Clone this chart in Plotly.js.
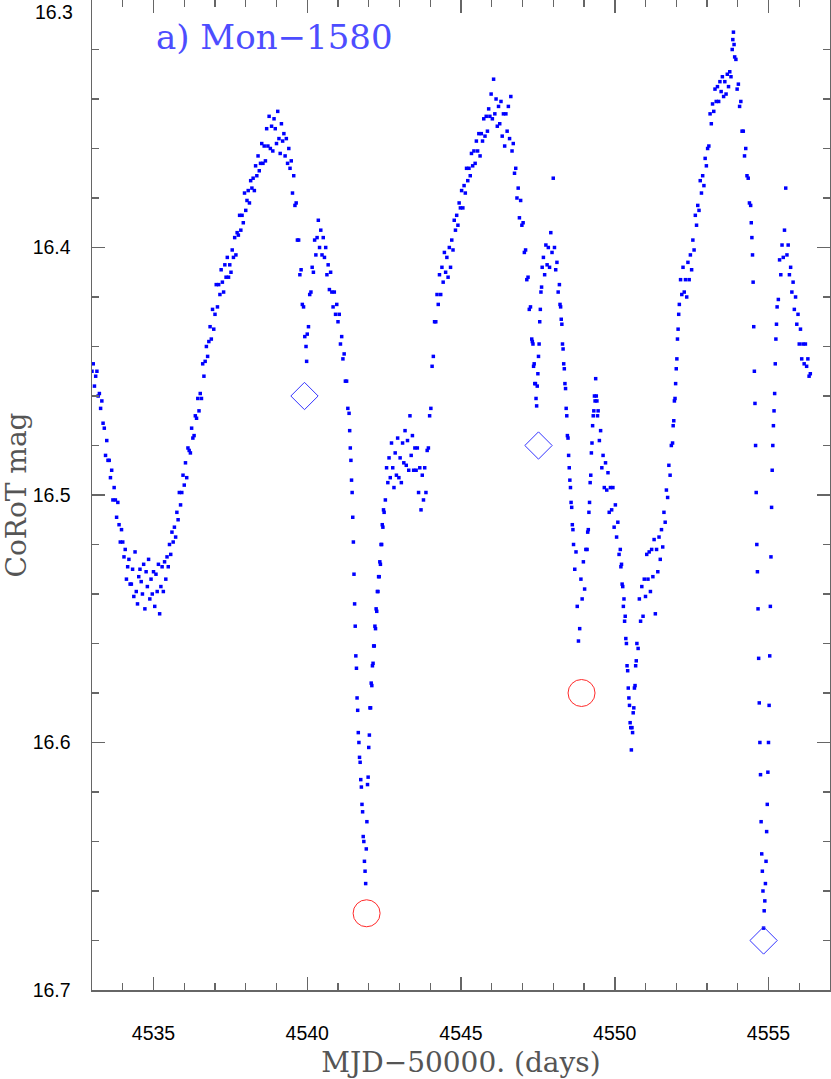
<!DOCTYPE html>
<html>
<head>
<meta charset="utf-8">
<script src="https://cdn.plot.ly/plotly-3.0.1.min.js"></script>
<style>
  html, body { margin: 0; padding: 0; background: #fff; }
  #plot { width: 831px; height: 1079px; }
</style>
</head>
<body>
<div id="plot"></div>
<script>
// CoRoT light curve of Mon-1580
const days = [
  4533.00,4533.04,4533.08,4533.12,4533.16,4533.20,4533.24,4533.28,4533.32,4533.36,
  4533.40,4533.44,4533.48,4533.52,4533.56,4533.60,4533.64,4533.68,4533.72,4533.76,
  4533.80,4533.84,4533.88,4533.92,4533.96,4534.00,4534.04,4534.08,4534.12,4534.16,
  4534.20,4534.24,4534.28,4534.32,4534.36,4534.40,4534.44,4534.48,4534.52,4534.56,
  4534.60,4534.64,4534.68,4534.72,4534.76,4534.80,4534.84,4534.88,4534.92,4534.96,
  4535.00,4535.04,4535.08,4535.12,4535.16,4535.20,4535.24,4535.28,4535.32,4535.36,
  4535.40,4535.44,4535.48,4535.52,4535.56,4535.60,4535.64,4535.68,4535.72,4535.76,
  4535.80,4535.84,4535.88,4535.92,4535.96,4536.00,4536.04,4536.08,4536.12,4536.16,
  4536.20,4536.24,4536.28,4536.32,4536.36,4536.40,4536.44,4536.48,4536.52,4536.56,
  4536.60,4536.64,4536.68,4536.72,4536.76,4536.80,4536.84,4536.88,4536.92,4536.96,
  4537.00,4537.04,4537.08,4537.12,4537.16,4537.20,4537.24,4537.28,4537.32,4537.36,
  4537.40,4537.44,4537.48,4537.52,4537.56,4537.60,4537.64,4537.68,4537.72,4537.76,
  4537.80,4537.84,4537.88,4537.92,4537.96,4538.00,4538.04,4538.08,4538.12,4538.16,
  4538.20,4538.24,4538.28,4538.32,4538.36,4538.40,4538.44,4538.48,4538.52,4538.56,
  4538.60,4538.64,4538.68,4538.72,4538.76,4538.80,4538.84,4538.88,4538.92,4538.96,
  4539.00,4539.04,4539.08,4539.12,4539.16,4539.20,4539.24,4539.28,4539.32,4539.36,
  4539.40,4539.44,4539.48,4539.52,4539.56,4539.60,4539.64,4539.68,4539.72,4539.76,
  4539.80,4539.84,4539.88,4539.92,4539.96,4539.98,4540.00,4540.04,4540.08,4540.12,
  4540.16,4540.20,4540.24,4540.28,4540.32,4540.36,4540.40,4540.44,4540.48,4540.52,
  4540.56,4540.60,4540.64,4540.68,4540.72,4540.76,4540.80,4540.84,4540.88,4540.92,
  4540.96,4541.00,4541.04,4541.08,4541.12,4541.16,4541.20,4541.24,4541.28,4541.32,
  4541.36,4541.38,4541.40,4541.42,4541.44,4541.46,4541.48,4541.50,4541.52,4541.54,
  4541.56,4541.58,4541.60,4541.62,4541.64,4541.66,4541.68,4541.70,4541.72,4541.74,
  4541.76,4541.78,4541.80,4541.82,4541.84,4541.86,4541.88,4541.90,4541.92,4541.94,
  4541.96,4541.98,4542.00,4542.02,4542.04,4542.06,4542.08,4542.10,4542.12,4542.14,
  4542.16,4542.18,4542.20,4542.22,4542.24,4542.26,4542.28,4542.30,4542.32,4542.34,
  4542.36,4542.38,4542.40,4542.42,4542.44,4542.46,4542.48,4542.50,4542.54,4542.58,
  4542.62,4542.66,4542.70,4542.74,4542.78,4542.82,4542.86,4542.90,4542.94,4542.98,
  4543.02,4543.06,4543.10,4543.14,4543.18,4543.22,4543.26,4543.30,4543.34,4543.38,
  4543.42,4543.46,4543.50,4543.54,4543.58,4543.62,4543.66,4543.70,4543.74,4543.78,
  4543.82,4543.86,4543.90,4543.94,4543.98,4544.02,4544.06,4544.10,4544.14,4544.18,
  4544.22,4544.26,4544.30,4544.34,4544.38,4544.42,4544.46,4544.50,4544.54,4544.58,
  4544.62,4544.66,4544.70,4544.74,4544.78,4544.82,4544.86,4544.90,4544.94,4544.98,
  4545.02,4545.06,4545.10,4545.14,4545.18,4545.22,4545.26,4545.30,4545.34,4545.38,
  4545.42,4545.46,4545.50,4545.54,4545.58,4545.62,4545.66,4545.70,4545.74,4545.78,
  4545.82,4545.86,4545.90,4545.94,4545.98,4546.02,4546.06,4546.10,4546.14,4546.18,
  4546.22,4546.26,4546.30,4546.34,4546.38,4546.42,4546.46,4546.50,4546.54,4546.58,
  4546.62,4546.66,4546.70,4546.74,4546.78,4546.82,4546.86,4546.90,4546.94,4546.98,
  4547.02,4547.06,4547.10,4547.14,4547.18,4547.22,4547.26,4547.30,4547.32,4547.34,
  4547.36,4547.38,4547.40,4547.42,4547.44,4547.46,4547.48,4547.50,4547.52,4547.54,
  4547.56,4547.58,4547.60,4547.62,4547.64,4547.68,4547.72,4547.76,4547.80,4547.84,
  4547.88,4547.92,4547.96,4548.00,4548.04,4548.08,4548.12,4548.16,4548.20,4548.22,
  4548.24,4548.26,4548.28,4548.30,4548.32,4548.34,4548.36,4548.38,4548.40,4548.42,
  4548.44,4548.46,4548.48,4548.50,4548.52,4548.54,4548.56,4548.58,4548.60,4548.62,
  4548.64,4548.66,4548.70,4548.74,4548.78,4548.82,4548.86,4548.90,4548.94,4548.98,
  4549.02,4549.06,4549.10,4549.12,4549.14,4549.16,4549.18,4549.20,4549.22,4549.24,
  4549.26,4549.28,4549.30,4549.32,4549.34,4549.36,4549.38,4549.40,4549.42,4549.44,
  4549.46,4549.50,4549.54,4549.58,4549.62,4549.66,4549.70,4549.74,4549.78,4549.82,
  4549.86,4549.90,4549.94,4549.98,4550.02,4550.06,4550.10,4550.14,4550.18,4550.20,
  4550.22,4550.24,4550.26,4550.28,4550.30,4550.32,4550.34,4550.36,4550.38,4550.40,
  4550.42,4550.44,4550.46,4550.48,4550.50,4550.52,4550.54,4550.56,4550.58,4550.60,
  4550.62,4550.64,4550.66,4550.68,4550.70,4550.72,4550.76,4550.80,4550.84,4550.88,
  4550.92,4550.96,4551.00,4551.04,4551.08,4551.12,4551.16,4551.20,4551.24,4551.28,
  4551.32,4551.36,4551.40,4551.44,4551.48,4551.52,4551.56,4551.60,4551.64,4551.68,
  4551.72,4551.76,4551.80,4551.84,4551.88,4551.90,4551.92,4551.94,4551.96,4551.98,
  4552.00,4552.02,4552.04,4552.06,4552.08,4552.10,4552.14,4552.18,4552.22,4552.26,
  4552.30,4552.34,4552.38,4552.42,4552.46,4552.50,4552.54,4552.58,4552.62,4552.66,
  4552.70,4552.74,4552.78,4552.82,4552.86,4552.90,4552.94,4552.98,4553.02,4553.06,
  4553.10,4553.14,4553.18,4553.22,4553.26,4553.30,4553.34,4553.38,4553.42,4553.46,
  4553.50,4553.54,4553.58,4553.62,4553.66,4553.70,4553.74,4553.78,4553.82,4553.84,
  4553.86,4553.88,4553.90,4553.94,4553.98,4554.02,4554.06,4554.10,4554.14,4554.18,
  4554.22,4554.26,4554.30,4554.34,4554.38,4554.42,4554.44,4554.46,4554.48,4554.50,
  4554.52,4554.54,4554.56,4554.58,4554.60,4554.62,4554.64,4554.66,4554.68,4554.70,
  4554.72,4554.74,4554.76,4554.78,4554.80,4554.82,4554.84,4554.86,4554.88,4554.90,
  4554.92,4554.94,4554.96,4554.98,4555.00,4555.02,4555.04,4555.06,4555.08,4555.10,
  4555.12,4555.14,4555.16,4555.18,4555.20,4555.22,4555.24,4555.26,4555.28,4555.32,
  4555.36,4555.40,4555.44,4555.48,4555.52,4555.56,4555.60,4555.64,4555.68,4555.72,
  4555.76,4555.80,4555.84,4555.88,4555.92,4555.96,4556.00,4556.04,4556.08,4556.12,
  4556.16,4556.20,4556.24,4556.28,4556.32,4556.36
];
const mag = [
  16.450,16.447,16.456,16.452,16.450,16.460,16.459,16.465,16.462,16.471,
  16.473,16.484,16.478,16.486,16.486,16.493,16.490,16.502,16.497,16.502,
  16.509,16.503,16.512,16.519,16.514,16.519,16.525,16.522,16.534,16.529,
  16.526,16.536,16.536,16.530,16.541,16.523,16.539,16.544,16.533,16.530,
  16.535,16.540,16.528,16.546,16.531,16.537,16.526,16.542,16.534,16.540,
  16.531,16.545,16.532,16.539,16.528,16.548,16.537,16.529,16.539,16.527,
  16.534,16.525,16.529,16.520,16.524,16.515,16.519,16.513,16.517,16.507,
  16.510,16.499,16.504,16.499,16.492,16.496,16.487,16.493,16.481,16.482,
  16.483,16.473,16.477,16.476,16.468,16.469,16.461,16.466,16.459,16.461,
  16.447,16.452,16.446,16.440,16.444,16.438,16.432,16.437,16.425,16.433,
  16.427,16.415,16.424,16.415,16.419,16.409,16.414,16.418,16.407,16.412,
  16.404,16.412,16.407,16.410,16.401,16.404,16.396,16.403,16.394,16.395,
  16.387,16.393,16.387,16.390,16.378,16.385,16.381,16.377,16.382,16.373,
  16.376,16.372,16.377,16.367,16.371,16.363,16.369,16.366,16.358,16.366,
  16.359,16.365,16.352,16.359,16.347,16.360,16.351,16.361,16.348,16.352,
  16.358,16.345,16.356,16.362,16.350,16.357,16.354,16.363,16.356,16.366,
  16.360,16.368,16.365,16.378,16.371,16.383,16.382,16.397,16.397,16.411,
  16.409,16.423,16.424,16.436,16.440,16.446,16.435,16.432,16.419,16.418,
  16.408,16.410,16.397,16.403,16.396,16.389,16.400,16.393,16.403,16.396,
  16.404,16.400,16.411,16.407,16.417,16.410,16.418,16.424,16.418,16.427,
  16.423,16.430,16.427,16.439,16.436,16.445,16.443,16.454,16.454,16.465,
  16.467,16.474,16.481,16.486,16.494,16.499,16.509,16.519,16.532,16.544,
  16.553,16.565,16.570,16.582,16.587,16.596,16.600,16.606,16.608,16.615,
  16.618,16.625,16.628,16.638,16.640,16.648,16.652,16.657,16.643,16.632,
  16.617,16.614,16.602,16.597,16.586,16.586,16.576,16.577,16.569,16.568,
  16.561,16.561,16.553,16.554,16.546,16.547,16.539,16.539,16.533,16.533,
  16.527,16.528,16.520,16.520,16.512,16.513,16.506,16.507,16.502,16.489,
  16.495,16.485,16.493,16.479,16.489,16.497,16.483,16.492,16.477,16.493,
  16.485,16.495,16.479,16.487,16.474,16.488,16.478,16.490,16.468,16.484,
  16.476,16.490,16.481,16.490,16.481,16.499,16.489,16.506,16.492,16.502,
  16.489,16.499,16.482,16.481,16.468,16.465,16.448,16.444,16.430,16.430,
  16.419,16.423,16.411,16.419,16.408,16.414,16.402,16.410,16.404,16.412,
  16.400,16.408,16.397,16.401,16.389,16.393,16.387,16.391,16.382,16.384,
  16.377,16.384,16.375,16.378,16.368,16.373,16.368,16.371,16.362,16.367,
  16.361,16.366,16.357,16.361,16.354,16.363,16.354,16.357,16.348,16.355,
  16.347,16.353,16.344,16.347,16.338,16.348,16.332,16.346,16.340,16.351,
  16.343,16.350,16.341,16.355,16.346,16.359,16.346,16.353,16.343,16.356,
  16.339,16.361,16.358,16.370,16.368,16.380,16.376,16.388,16.381,16.391,
  16.390,16.402,16.401,16.413,16.412,16.425,16.424,16.437,16.438,16.439,
  16.448,16.447,16.455,16.455,16.461,16.464,16.456,16.451,16.444,16.439,
  16.430,16.425,16.418,16.416,16.408,16.404,16.411,16.399,16.407,16.400,
  16.408,16.394,16.402,16.372,16.400,16.409,16.406,16.418,16.415,16.423,
  16.424,16.429,16.431,16.439,16.441,16.447,16.449,16.455,16.457,16.465,
  16.468,16.476,16.477,16.484,16.489,16.494,16.497,16.503,16.505,16.512,
  16.514,16.520,16.530,16.523,16.545,16.559,16.554,16.534,16.542,16.527,
  16.538,16.522,16.522,16.515,16.514,16.507,16.503,16.495,16.492,16.483,
  16.479,16.472,16.468,16.466,16.460,16.462,16.453,16.460,16.462,16.468,
  16.466,16.478,16.474,16.489,16.484,16.497,16.487,16.498,16.491,16.507,
  16.497,16.506,16.497,16.513,16.504,16.517,16.511,16.524,16.522,16.529,
  16.528,16.536,16.537,16.545,16.542,16.551,16.549,16.558,16.560,16.569,
  16.571,16.578,16.582,16.585,16.592,16.594,16.603,16.594,16.596,16.588,
  16.586,16.578,16.577,16.569,16.567,16.560,16.562,16.542,16.551,16.537,
  16.549,16.534,16.541,16.524,16.534,16.523,16.539,16.522,16.533,16.518,
  16.548,16.522,16.531,16.517,16.526,16.514,16.521,16.507,16.511,16.498,
  16.501,16.488,16.492,16.480,16.479,16.472,16.470,16.462,16.461,16.455,
  16.449,16.445,16.437,16.433,16.427,16.423,16.413,16.419,16.408,16.418,
  16.413,16.420,16.406,16.413,16.403,16.409,16.397,16.401,16.387,16.391,
  16.383,16.385,16.373,16.378,16.371,16.375,16.364,16.367,16.360,16.359,
  16.346,16.350,16.342,16.345,16.336,16.341,16.335,16.341,16.333,16.337,
  16.331,16.339,16.333,16.338,16.330,16.335,16.329,16.331,16.320,16.316,
  16.313,16.318,16.323,16.324,16.336,16.334,16.343,16.341,16.353,16.353,
  16.363,16.360,16.371,16.372,16.382,16.383,16.390,16.396,16.403,16.414,
  16.432,16.450,16.463,16.480,16.499,16.520,16.531,16.546,16.566,16.584,
  16.600,16.613,16.632,16.645,16.652,16.660,16.675,16.668,16.664,16.657,
  16.648,16.636,16.625,16.612,16.600,16.585,16.565,16.545,16.525,16.505,
  16.490,16.480,16.472,16.466,16.459,16.447,16.437,16.431,16.424,16.421,
  16.405,16.411,16.399,16.404,16.393,16.376,16.403,16.399,16.411,16.408,
  16.418,16.414,16.425,16.420,16.431,16.427,16.439,16.433,16.445,16.439,
  16.447,16.439,16.448,16.445,16.452,16.451
];

// marked dips: blue diamonds and red circles
const diamondDays = [4539.91, 4547.52, 4554.84];
const diamondMag = [16.460, 16.480, 16.680];
const circleDays = [4541.93, 4548.92];
const circleMag = [16.669, 16.580];

const yTickVals = [16.3, 16.4, 16.5, 16.6, 16.7];
const yTickText = ['', '16.4', '16.5', '16.6', '16.7'];

const tickFont = { family: 'Liberation Sans, Arial, sans-serif', size: 19.5, color: '#000' };
const titleFont = { family: 'DejaVu Serif, serif', size: 28, color: '#555' };
const frame = '#666';

const traces = [
  {
    x: days, y: mag, type: 'scatter', mode: 'markers',
    marker: { symbol: 'square', size: 3.5, color: '#0000ff', line: { width: 0 } },
    hoverinfo: 'skip'
  },
  {
    x: diamondDays, y: diamondMag, type: 'scatter', mode: 'markers',
    marker: { symbol: 'diamond-open', size: 21, color: '#3333ff', line: { width: 1, color: '#3333ff' } }
  },
  {
    x: circleDays, y: circleMag, type: 'scatter', mode: 'markers',
    marker: { symbol: 'circle-open', size: 27, color: '#ff2a2a', line: { width: 1, color: '#ff2a2a' } }
  }
];

const layout = {
  width: 831, height: 1079,
  margin: { l: 92, r: 1, t: 0, b: 89 },
  paper_bgcolor: '#fff', plot_bgcolor: '#fff',
  showlegend: false,
  xaxis: {
    range: [4533, 4557],
    tick0: 4535, dtick: 5,
    ticks: 'inside', ticklen: 13, tickwidth: 1.5, tickcolor: frame,
    minor: { ticks: 'inside', tick0: 4533, dtick: 1, ticklen: 7, tickwidth: 1.2, tickcolor: frame },
    showline: true, linecolor: frame, linewidth: 1.5, mirror: 'allticks',
    showgrid: false, zeroline: false,
    tickfont: tickFont, ticklabelstandoff: 25,
    title: { text: 'MJD\u221250000. (days)', font: titleFont, standoff: 10 }
  },
  yaxis: {
    range: [16.7, 16.3],
    tickmode: 'array', tickvals: yTickVals, ticktext: yTickText,
    ticks: 'inside', ticklen: 13, tickwidth: 1.5, tickcolor: frame,
    minor: { ticks: 'inside', tickmode: 'linear', tick0: 16.3, dtick: 0.02, ticklen: 7, tickwidth: 1.2, tickcolor: frame },
    showline: true, linecolor: frame, linewidth: 1.5, mirror: 'allticks',
    showgrid: false, zeroline: false,
    tickfont: tickFont, ticklabelstandoff: 16,
    title: { text: 'CoRoT mag', font: titleFont, standoff: 4 }
  },
  annotations: [
    {
      text: 'a) Mon\u22121580', xref: 'paper', yref: 'paper',
      x: 0.084, y: 0.963, xanchor: 'left', yanchor: 'middle', showarrow: false,
      font: { family: 'DejaVu Serif, serif', size: 34, color: '#4d4dff' }
    },
    {
      // top label sits just below its tick so it is not cut off
      text: '16.3', xref: 'paper', yref: 'y',
      x: 0, y: 16.3, xanchor: 'right', yanchor: 'top', xshift: -17, yshift: 1,
      showarrow: false, font: tickFont
    }
  ]
};

Plotly.newPlot('plot', traces, layout, { displayModeBar: false, staticPlot: true });
</script>
</body>
</html>
